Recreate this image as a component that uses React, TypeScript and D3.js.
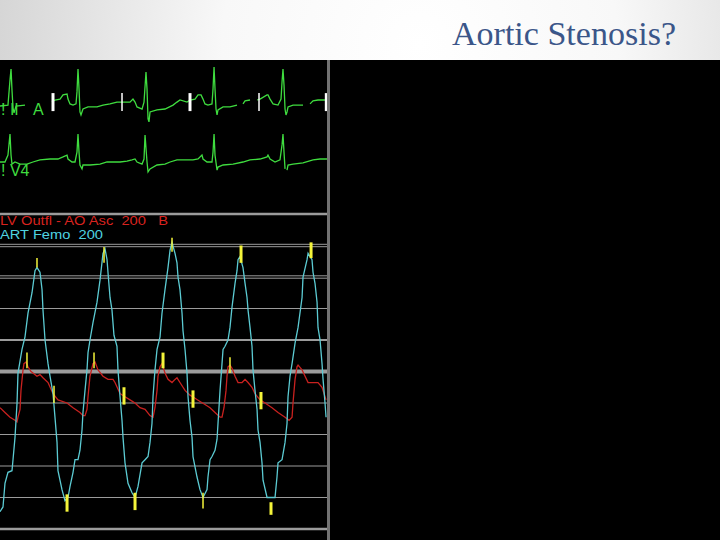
import React from 'react';
import * as d3 from 'd3';

type Pt = [number, number | null];

// Time in ms, pressure in mmHg, ECG in mV
const gridLevels = [0, 20, 40, 60, 80, 100, 120, 140, 160, 180, 200];
const majorLevels = [0, 100, 200];
const doubleLevels = [160, 180];

const artFemo: Pt[] = [
  [0, 11], [44, 14], [73, 29], [117, 36], [176, 37], [191, 44], [220, 58], [250, 80], [264, 99], [323, 114],
  [367, 122], [411, 137], [470, 150], [514, 164], [543, 166], [587, 163], [617, 152], [631, 139], [661, 120],
  [705, 105], [734, 97], [778, 86], [807, 71], [837, 55], [851, 37], [910, 25], [954, 18], [998, 20], [1028, 27],
  [1072, 36], [1101, 44], [1145, 44], [1174, 50], [1204, 63], [1218, 74], [1248, 88], [1277, 101], [1292, 112],
  [1321, 120], [1365, 131], [1424, 144], [1468, 158], [1512, 175], [1541, 178], [1571, 171], [1585, 163],
  [1615, 147], [1644, 139], [1673, 123], [1717, 116], [1732, 101], [1762, 84], [1791, 69], [1806, 58], [1835, 42],
  [1879, 29], [1938, 23], [1982, 20], [2026, 27], [2085, 42], [2129, 44], [2173, 46], [2202, 55], [2231, 67],
  [2246, 84], [2275, 101], [2305, 114], [2349, 122], [2378, 137], [2422, 152], [2466, 166], [2496, 177],
  [2525, 182], [2569, 175], [2598, 169], [2613, 160], [2642, 152], [2672, 137], [2686, 126], [2716, 114],
  [2745, 99], [2760, 84], [2789, 69], [2819, 58], [2833, 46], [2892, 33], [2936, 25], [2980, 20], [3039, 25],
  [3053, 33], [3083, 44], [3112, 46], [3156, 50], [3186, 57], [3200, 67], [3230, 88], [3259, 105], [3274, 114],
  [3303, 116], [3347, 120], [3376, 128], [3406, 141], [3450, 156], [3479, 164], [3494, 171], [3523, 173],
  [3567, 166], [3597, 156], [3626, 147], [3641, 139], [3670, 128], [3699, 116], [3714, 101], [3743, 88],
  [3773, 76], [3787, 63], [3817, 55], [3846, 42], [3861, 31], [3920, 20], [3993, 20], [4037, 20], [4066, 33],
  [4081, 42], [4140, 44], [4184, 55], [4213, 67], [4228, 84], [4257, 97], [4287, 105], [4331, 118], [4375, 128],
  [4434, 147], [4448, 160], [4507, 171], [4522, 175], [4580, 171], [4595, 163], [4624, 156], [4654, 144],
  [4668, 128], [4698, 120], [4727, 105], [4742, 95], [4771, 80], [4786, 71],
];

const lvOutflow: Pt[] = [
  [0, 77], [73, 74], [147, 71], [220, 69], [250, 68], [264, 71], [294, 76], [308, 88], [338, 101], [352, 105],
  [382, 106], [411, 103], [455, 100], [484, 99], [543, 97], [587, 98], [631, 96], [705, 93], [778, 86], [851, 82],
  [984, 80], [1072, 77], [1174, 74], [1218, 72], [1248, 72], [1277, 76], [1292, 84], [1321, 97], [1365, 105],
  [1395, 106], [1439, 101], [1512, 97], [1585, 95], [1659, 95], [1688, 93], [1762, 86], [1835, 84], [1908, 82],
  [1982, 80], [2055, 77], [2129, 76], [2202, 72], [2246, 71], [2275, 77], [2305, 88], [2319, 97], [2349, 103],
  [2378, 105], [2393, 103], [2422, 99], [2466, 95], [2525, 93], [2569, 95], [2598, 96], [2642, 93], [2716, 88],
  [2789, 85], [2863, 83], [2936, 81], [3009, 79], [3083, 77], [3156, 74], [3230, 71], [3259, 71], [3288, 77],
  [3318, 88], [3332, 97], [3347, 103], [3376, 104], [3406, 102], [3450, 97], [3494, 93], [3553, 93], [3597, 95],
  [3641, 93], [3699, 90], [3743, 86], [3817, 82], [3890, 80], [3993, 77], [4081, 74], [4184, 71], [4243, 69],
  [4287, 71], [4301, 80], [4331, 95], [4360, 103], [4375, 104], [4434, 101], [4478, 97], [4522, 93], [4580, 93],
  [4624, 93], [4668, 93], [4727, 90], [4771, 84], [4786, 82],
];

const ecgLeadII: Pt[] = [
  [0, 0], [117, 0.03], [147, 0.87], [162, 1.23], [176, 0.53], [191, -0.07], [206, -0.23], [235, 0], [367, 0.03],
  [380, null],
  [763, 0.13], [807, 0.2], [881, 0.23], [925, 0.37], [984, 0.4], [998, 0.23], [1028, 0.07], [1072, 0.03],
  [1116, 0.07], [1130, 0.47], [1145, 1.23], [1160, 0.57], [1174, -0.2], [1189, -0.3], [1218, -0.1], [1292, -0.03],
  [1424, -0.03], [1512, 0.03], [1615, 0.07], [1717, 0.13], [1835, 0.13], [1908, 0.13], [1952, 0.23], [1982, 0.13],
  [2011, -0.03], [2085, -0.1], [2114, 0.13], [2143, 1.13], [2158, 0.57], [2173, -0.43], [2187, -0.53], [2202, -0.2],
  [2305, -0.13], [2422, -0.1], [2540, 0.03], [2598, 0.13], [2642, 0.2], [2745, 0.13], [2789, 0.2], [2863, 0.23],
  [2907, 0.37], [2951, 0.37], [2980, 0.23], [3009, 0.07], [3053, 0.03], [3112, 0.07], [3127, 0.57], [3142, 1.3],
  [3156, 0.57], [3171, -0.1], [3186, -0.3], [3200, -0.13], [3274, -0.03], [3376, -0.03], [3479, 0.03],
  [3500, null],
  [3567, 0.07], [3597, 0.17], [3670, 0.2],
  [3700, null],
  [3773, 0.2], [3817, 0.23], [3920, 0.37], [3934, 0.37], [3964, 0.23], [4008, 0.07], [4081, 0.03], [4125, 0.23],
  [4140, 0.8], [4154, 1.23], [4169, 0.7], [4184, -0.1], [4198, -0.3], [4213, -0.2], [4228, -0.03], [4301, 0.03],
  [4448, 0.03],
  [4480, null],
  [4551, 0.07], [4595, 0.17], [4668, 0.2], [4742, 0.2], [4800, 0.2],
];

const ecgV4: Pt[] = [
  [0, 0], [73, 0], [117, 0.23], [147, 0.93], [162, 0.23], [176, -0.07], [220, 0], [294, -0.07], [396, -0.07],
  [484, 0], [587, 0.07], [734, 0.1], [851, 0.1], [925, 0.17], [984, 0.23], [998, 0.1], [1057, 0], [1101, 0],
  [1130, 0.33], [1145, 0.93], [1160, 0.33], [1174, -0.1], [1204, -0.23], [1218, -0.1], [1321, -0.1], [1468, -0.07],
  [1571, 0], [1659, 0], [1762, 0], [1864, 0.03], [1938, 0.07], [1982, 0.1], [2011, 0], [2085, -0.07], [2114, 0.1],
  [2129, 0.9], [2158, 0], [2173, -0.33], [2202, -0.23], [2305, -0.1], [2422, -0.07], [2496, 0], [2598, 0.07],
  [2686, 0.07], [2833, 0.07], [2907, 0.1], [2965, 0.23], [2980, 0.1], [3039, 0], [3112, 0], [3127, 0.33],
  [3142, 0.93], [3156, 0.23], [3186, -0.27], [3200, -0.17], [3274, -0.1], [3421, -0.07], [3567, 0], [3670, 0.07],
  [3817, 0.1], [3920, 0.17], [3934, 0.23], [3964, 0.1], [4037, 0], [4110, 0.07], [4140, 0.57], [4154, 0.93],
  [4169, 0.33], [4184, -0.23],
  [4195, null],
  [4213, -0.27], [4228, -0.1], [4301, -0.07], [4448, -0.03], [4595, 0.07], [4698, 0.1], [4800, 0.1],
];

// Yellow pressure markers: time, upper mmHg, lower mmHg, bold
const pressureMarkTimes = [543, 1527, 2525, 3538, 4566, 396, 1380, 2393, 3376, 793, 1820, 2833, 3831, 984, 1982, 2980, 3978];
const pressureMarkTop = [172, 179, 185, 180, 182, 112, 112, 112, 109, 91, 90, 88, 87, 22, 23, 23, 17];
const pressureMarkBottom = [166, 169, 176, 169, 172, 102, 102, 102, 99, 80, 79, 77, 76, 11, 12, 13, 9];
const pressureMarkBold = [false, false, false, true, true, false, false, true, false, false, true, true, true, true, true, false, true];

// White ECG markers (lead II)
const ecgMarkTimes = [778, 1791, 2789, 3802, 4790];
const ecgMarkBold = [true, false, true, false, true];
const ecgMarkRange = [0.43, -0.17];

const titleText = 'Aortic Stenosis?';
const redLabel = 'LV Outfl - AO Asc  200   B';
const cyanLabel = 'ART Femo  200';

export default function App() {
  const x = d3.scaleLinear().domain([0, 4800]).range([0, 327]);
  const p = d3.scaleLinear().domain([0, 200]).range([529, 214]);
  const l2 = d3.scaleLinear().domain([0, 1]).range([106, 76]);
  const lv4 = d3.scaleLinear().domain([0, 1]).range([162, 132]);

  const mk = (ys: d3.ScaleLinear<number, number>) =>
    d3.line<Pt>()
      .defined((d) => d[1] !== null)
      .x((d) => x(d[0]))
      .y((d) => ys(d[1] as number));

  const green = '#3fdc3f';
  const cyan = '#5ccbd3';
  const red = '#c8211f';
  const yellow = '#f4f43a';
  const gridColor = '#9b9b9b';

  const gridWidth = (v: number) => (v === 100 ? 4 : majorLevels.includes(v) ? 2.5 : v === 120 ? 2 : 1.2);

  return (
    <div style={{ position: 'absolute', left: 0, top: 0, width: 720, height: 540 }}>
      <svg width={720} height={540} style={{ display: 'block' }}>
        <defs>
          <radialGradient id="hdr" gradientUnits="userSpaceOnUse" cx={420} cy={45} r={440}>
            <stop offset="0" stopColor="#ffffff" />
            <stop offset="0.45" stopColor="#f8f8f8" />
            <stop offset="1" stopColor="#d3d3d3" />
          </radialGradient>
        </defs>
        <rect x={0} y={0} width={720} height={60} fill="url(#hdr)" />
        <text
          x={452}
          y={45}
          fontFamily="'Liberation Serif', 'DejaVu Serif', serif"
          fontSize={34}
          fill="#3b5689"
          textLength={224}
          lengthAdjust="spacingAndGlyphs"
        >
          {titleText}
        </text>
        <rect x={0} y={60} width={720} height={480} fill="#000" />

        {gridLevels.map((v) =>
          doubleLevels.includes(v) ? (
            <g key={v}>
              <line x1={0} x2={327} y1={p(v) - 1.2} y2={p(v) - 1.2} stroke={gridColor} strokeWidth={1} />
              <line x1={0} x2={327} y1={p(v) + 1.2} y2={p(v) + 1.2} stroke={gridColor} strokeWidth={1} />
            </g>
          ) : (
            <line key={v} x1={0} x2={327} y1={p(v)} y2={p(v)} stroke={gridColor} strokeWidth={gridWidth(v)} />
          )
        )}

        <path d={mk(p)(lvOutflow) || ''} fill="none" stroke={red} strokeWidth={1.3} />
        <path d={mk(p)(artFemo) || ''} fill="none" stroke={cyan} strokeWidth={1.3} />

        {pressureMarkTimes.map((t, i) => (
          <line
            key={'pm' + i}
            x1={x(t)}
            x2={x(t)}
            y1={p(pressureMarkTop[i])}
            y2={p(pressureMarkBottom[i])}
            stroke={yellow}
            strokeWidth={pressureMarkBold[i] ? 3 : 1.5}
          />
        ))}

        <path d={mk(l2)(ecgLeadII) || ''} fill="none" stroke={green} strokeWidth={1.3} />
        <path d={mk(lv4)(ecgV4) || ''} fill="none" stroke={green} strokeWidth={1.3} />

        {ecgMarkTimes.map((t, i) => (
          <line
            key={'em' + i}
            x1={x(t)}
            x2={x(t)}
            y1={l2(ecgMarkRange[0])}
            y2={l2(ecgMarkRange[1])}
            stroke="#ffffff"
            strokeWidth={ecgMarkBold[i] ? 3 : 1.5}
          />
        ))}

        <g fontFamily="'Liberation Sans', Arial, sans-serif" fontSize={16} fill={green}>
          <text x={1} y={115}>! II</text>
          <text x={33} y={115}>A</text>
          <text x={1} y={176}>! V4</text>
        </g>
        <g fontFamily="'Liberation Sans', Arial, sans-serif" fontSize={12.5}>
          <text x={0} y={224.5} fill="#d8231f" xmlSpace="preserve" style={{ whiteSpace: 'pre' }} textLength={168} lengthAdjust="spacingAndGlyphs">{redLabel}</text>
          <text x={0} y={239} fill="#4fd4e0" xmlSpace="preserve" style={{ whiteSpace: 'pre' }} textLength={103} lengthAdjust="spacingAndGlyphs">{cyanLabel}</text>
        </g>

        <rect x={327} y={60} width={3} height={480} fill="#727272" />
      </svg>
    </div>
  );
}
